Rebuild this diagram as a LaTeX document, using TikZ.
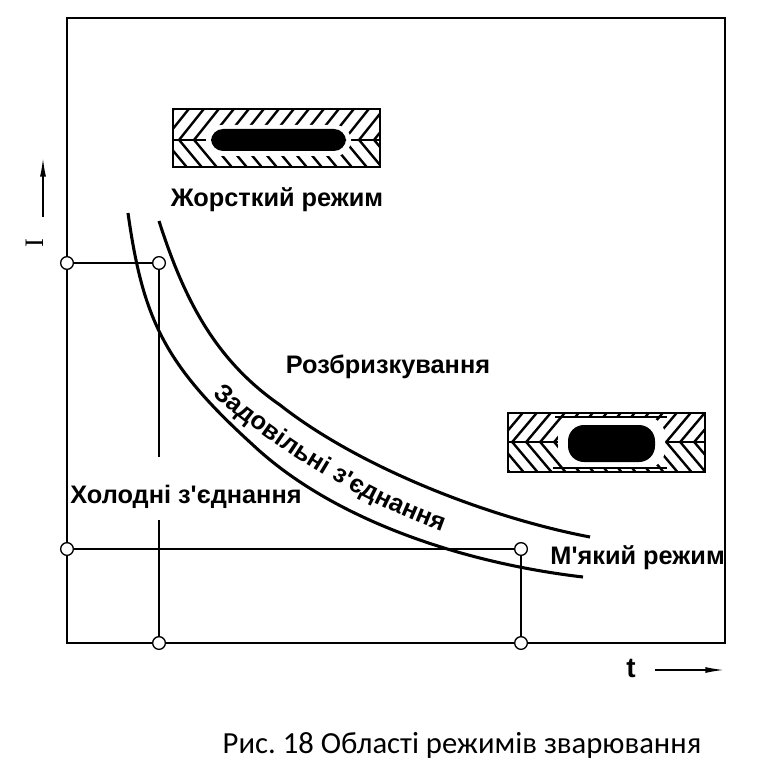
\documentclass[tikz,border=0pt]{standalone}
\usepackage{fontspec}
\setmainfont{Liberation Sans}
\newfontfamily\capfont{Carlito}
\newfontfamily\serfont{Liberation Serif}
\usetikzlibrary{arrows.meta,decorations.text}
\newcommand\apos{\textquotesingle}
\frenchspacing
\begin{document}
\begin{tikzpicture}[x=0.75pt,y=-0.75pt,
  joint/.style={draw,circle,fill=white,inner sep=0pt,minimum size=9.5pt,line width=1pt},
  link/.style={line width=1pt},
  curve/.style={line width=2.3pt},
  hatch/.style={line width=1.8pt},
  plate/.style={line width=1.7pt},
  axis/.style={line width=1.1pt,-{Latex[length=14pt,width=4.5pt]}},
  lbl/.style={font=\fontsize{19}{21}\selectfont\bfseries,inner sep=0pt}]
\useasboundingbox (0,0) rectangle (773,766);
\draw[line width=1.6pt] (67,18) rectangle (725,643);
% upper weld
\begin{scope}
  \clip (173,109) rectangle (380,140);
  \foreach \k in {0,...,15} \draw[hatch] (145+15*\k,145) -- ++(32,-40);
\end{scope}
\begin{scope}
  \clip (173,140) rectangle (380,167);
  \foreach \k in {0,...,15} \draw[hatch] (145+15*\k,135) -- ++(30,36);
\end{scope}
\draw[plate] (173,109) rectangle (380,167) (173,140) -- (380,140);
\fill[white,rounded corners=12pt] (206,125) rectangle (351,156);
\fill[black,rounded corners=9pt] (211,129) rectangle (346,151);
% lower weld
\begin{scope}
  \clip (508,413) rectangle (705,442);
  \foreach \k in {0,...,15} \draw[hatch] (480+14*\k,447) -- ++(32,-38);
\end{scope}
\begin{scope}
  \clip (508,442) rectangle (705,472);
  \foreach \k in {0,...,15} \draw[hatch] (480+14*\k,437) -- ++(32,38);
\end{scope}
\draw[plate] (508,413) rectangle (705,472) (508,442) -- (705,442);
\fill[white,rounded corners=14pt] (558,417) rectangle (665,468);
\draw[link] (555,417) -- (667,417) (553,468) -- (667,468);
\fill[black,rounded corners=12pt] (568,425) rectangle (655,462);
% regime curves
\draw[curve] (128,213) .. controls (143,320) and (165,365) .. (253,445)
  .. controls (333,520) and (463,563) .. (583,577);
\draw[curve] (159,221) .. controls (184,299) and (215,360) .. (280,405)
  .. controls (360,468) and (490,518) .. (590,537);
\node[joint] (a) at (67,263) {};
\node[joint] (b) at (159,263) {};
\node[joint] (c) at (67,549) {};
\node[joint] (d) at (521,549) {};
\node[joint] (e) at (159,643) {};
\node[joint] (f) at (521,643) {};
\coordinate (b1) at (159,457);
\coordinate (e1) at (159,520);
\draw[link] (a) -- (b);
\draw[link] (b) -- (b1);
\draw[link] (e1) -- (e);
\draw[link] (c) -- (d);
\draw[link] (d) -- (f);
\node[lbl] (hard) at (277,200) {Жорсткий режим};
\node[lbl] (spray) at (388,367) {Розбризкування};
\path[decorate,decoration={text along path,text align=center,
  text={|\fontsize{19}{21}\selectfont\bfseries|Задовільні з{\apos}єднання}}]
  (185,370) .. controls (265,446) and (375,514) .. (478,543);
\node[lbl] (cold) at (186,497) {Холодні з\apos єднання};
\node[lbl,anchor=east] (soft) at (725,558) {М\apos який режим};
\node[font=\serfont\fontsize{20}{22}\selectfont,rotate=90,inner sep=0pt] (ilab) at (35,243) {I};
\coordinate (ilo) at (43,217);
\coordinate (ihi) at (43,158);
\draw[axis] (ilo) -- (ihi);
\node[lbl,font=\fontsize{21}{23}\selectfont\bfseries] (tlab) at (631,668) {t};
\coordinate (tlo) at (655,670);
\coordinate (thi) at (724,670);
\draw[axis] (tlo) -- (thi);
\node[font=\capfont\fontsize{23}{26}\selectfont] (cap) at (462,745) {Рис. 18 Області режимів зварювання};
\end{tikzpicture}
\end{document}
